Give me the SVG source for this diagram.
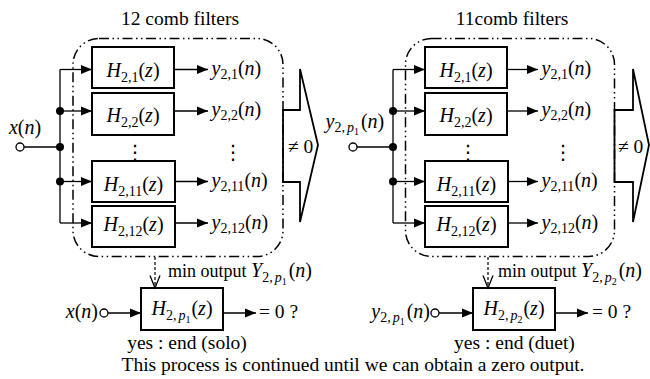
<svg xmlns="http://www.w3.org/2000/svg" width="650" height="379" viewBox="0 0 650 379">
  <defs>
    <style>
      .t { font-family: "Liberation Serif", "Times New Roman", serif; font-size: 19.5px; fill: #000; }
      .m { font-size: 20px; }
      .i { font-style: italic; }
      .s { font-size: 14px; }
      .ss { font-size: 10px; }
      .dots { font-family: "DejaVu Sans", sans-serif; font-size: 20px; fill: #000; }
      .box { fill: #fff; stroke: #000; stroke-width: 2; }
      .wire { fill: none; stroke: #000; stroke-width: 1.3; }
      .arr { marker-end: url(#ah); }
      .dash { fill: none; stroke: #000; stroke-width: 1.2; stroke-dasharray: 3 2; }
      .grp { fill: none; stroke: #000; stroke-width: 1.5; stroke-dasharray: 10 3.5 1.5 3.5 1.5 3.5; }
      .big { fill: none; stroke: #000; stroke-width: 1.8; stroke-linejoin: miter; }
      .node { fill: #000; }
      .port { fill: #fff; stroke: #000; stroke-width: 1.3; }
    </style>
    <marker id="ah" markerUnits="userSpaceOnUse" markerWidth="11" markerHeight="10" refX="11" refY="5" orient="auto">
      <path d="M0,0.5 L11,5 L0,9.5 z" fill="#000"/>
    </marker>
  </defs>

  <!-- titles -->
  <text class="t" x="180" y="25" text-anchor="middle">12 comb filters</text>
  <text class="t" x="512" y="25" text-anchor="middle">11comb filters</text>

  <!-- ===== left stage: 12 comb filters ===== -->
  <g id="bank1-frame">
    <rect class="grp" x="73" y="38.5" width="210" height="218" rx="26"/>
    <path class="big" d="M283,110 H300 V69 L318,145 L300,222 V182 H283 Z"/>
    <text class="t" x="288" y="153">≠ 0</text>
  </g>

  <g id="input1">
    <circle class="port" cx="20" cy="147" r="4"/>
    <text class="t m" x="25" y="134" text-anchor="middle"><tspan class="i">x</tspan>(<tspan class="i">n</tspan>)</text>
  </g>

  <g id="h21-a">
    <rect class="box" x="92" y="47" width="82" height="41"/>
    <text class="t m" x="133" y="77" text-anchor="middle"><tspan class="i">H</tspan><tspan class="s" dy="5">2,1</tspan><tspan dy="-5">(</tspan><tspan class="i">z</tspan>)</text>
  </g>
  <g id="h22-a">
    <rect class="box" x="92" y="93" width="82" height="42"/>
    <text class="t m" x="133" y="122" text-anchor="middle"><tspan class="i">H</tspan><tspan class="s" dy="5">2,2</tspan><tspan dy="-5">(</tspan><tspan class="i">z</tspan>)</text>
  </g>
  <g id="h211-a">
    <rect class="box" x="92" y="161" width="83" height="41"/>
    <text class="t m" x="133.5" y="191" text-anchor="middle"><tspan class="i">H</tspan><tspan class="s" dy="5">2,11</tspan><tspan dy="-5">(</tspan><tspan class="i">z</tspan>)</text>
  </g>
  <g id="h212-a">
    <rect class="box" x="92" y="206" width="83" height="41"/>
    <text class="t m" x="133.5" y="231" text-anchor="middle"><tspan class="i">H</tspan><tspan class="s" dy="5">2,12</tspan><tspan dy="-5">(</tspan><tspan class="i">z</tspan>)</text>
  </g>

  <g id="outputs1">
    <text class="t m" x="211.5" y="75"><tspan class="i">y</tspan><tspan class="s" dy="4">2,1</tspan><tspan dy="-4">(</tspan><tspan class="i">n</tspan>)</text>
    <text class="t m" x="211.5" y="116"><tspan class="i">y</tspan><tspan class="s" dy="4">2,2</tspan><tspan dy="-4">(</tspan><tspan class="i">n</tspan>)</text>
    <text class="t m" x="211.5" y="187"><tspan class="i">y</tspan><tspan class="s" dy="4">2,11</tspan><tspan dy="-4">(</tspan><tspan class="i">n</tspan>)</text>
    <text class="t m" x="211.5" y="228.5"><tspan class="i">y</tspan><tspan class="s" dy="4">2,12</tspan><tspan dy="-4">(</tspan><tspan class="i">n</tspan>)</text>
    <text class="dots" x="135" y="159" text-anchor="middle">⋮</text>
    <text class="dots" x="233" y="159" text-anchor="middle">⋮</text>
  </g>

  <g id="solo-test">
    <rect class="box" x="141" y="288" width="82" height="42"/>
    <text class="t m" x="182" y="315" text-anchor="middle"><tspan class="i">H</tspan><tspan class="s" dy="5">2,</tspan><tspan class="s i" dx="2">p</tspan><tspan class="ss" dy="3">1</tspan><tspan dy="-8" dx="1">(</tspan><tspan class="i">z</tspan>)</text>
    <circle class="port" cx="104" cy="313" r="4"/>
    <text class="t m" x="98" y="318" text-anchor="end"><tspan class="i">x</tspan>(<tspan class="i">n</tspan>)</text>
    <text class="t" x="259" y="318">= 0 ?</text>
    <text class="t" x="168" y="277" style="font-size:18px">min output <tspan class="i m">Y</tspan><tspan class="s" dy="5">2,</tspan><tspan class="s i" dx="2">p</tspan><tspan class="ss" dy="3">1</tspan><tspan class="m" dy="-8" dx="2">(</tspan><tspan class="i m">n</tspan><tspan class="m">)</tspan></text>
    <text class="t" x="187" y="349" text-anchor="middle">yes : end (solo)</text>
  </g>

  <!-- ===== right stage: 11 comb filters ===== -->
  <g id="bank2-frame">
    <rect class="grp" x="405.5" y="38.5" width="209" height="218" rx="26"/>
    <path class="big" d="M614.5,110 H633 V69 L649,145 L633,222 V182 H614.5 Z"/>
    <text class="t" x="618" y="153">≠ 0</text>
  </g>

  <g id="input2">
    <circle class="port" cx="353" cy="147" r="4"/>
    <text class="t m" x="325.5" y="128"><tspan class="i">y</tspan><tspan class="s" dy="4">2,</tspan><tspan class="s i" dx="2">p</tspan><tspan class="ss" dy="3">1</tspan><tspan dy="-7" dx="2">(</tspan><tspan class="i">n</tspan>)</text>
  </g>

  <g id="h21-b">
    <rect class="box" x="425" y="47" width="82" height="41"/>
    <text class="t m" x="466" y="77" text-anchor="middle"><tspan class="i">H</tspan><tspan class="s" dy="5">2,1</tspan><tspan dy="-5">(</tspan><tspan class="i">z</tspan>)</text>
  </g>
  <g id="h22-b">
    <rect class="box" x="425" y="93" width="82" height="42"/>
    <text class="t m" x="466" y="122" text-anchor="middle"><tspan class="i">H</tspan><tspan class="s" dy="5">2,2</tspan><tspan dy="-5">(</tspan><tspan class="i">z</tspan>)</text>
  </g>
  <g id="h211-b">
    <rect class="box" x="425" y="161" width="83" height="41"/>
    <text class="t m" x="466.5" y="191" text-anchor="middle"><tspan class="i">H</tspan><tspan class="s" dy="5">2,11</tspan><tspan dy="-5">(</tspan><tspan class="i">z</tspan>)</text>
  </g>
  <g id="h212-b">
    <rect class="box" x="425" y="206" width="83" height="41"/>
    <text class="t m" x="466.5" y="231" text-anchor="middle"><tspan class="i">H</tspan><tspan class="s" dy="5">2,12</tspan><tspan dy="-5">(</tspan><tspan class="i">z</tspan>)</text>
  </g>

  <g id="outputs2">
    <text class="t m" x="541.5" y="75"><tspan class="i">y</tspan><tspan class="s" dy="4">2,1</tspan><tspan dy="-4">(</tspan><tspan class="i">n</tspan>)</text>
    <text class="t m" x="541.5" y="116"><tspan class="i">y</tspan><tspan class="s" dy="4">2,2</tspan><tspan dy="-4">(</tspan><tspan class="i">n</tspan>)</text>
    <text class="t m" x="541.5" y="187"><tspan class="i">y</tspan><tspan class="s" dy="4">2,11</tspan><tspan dy="-4">(</tspan><tspan class="i">n</tspan>)</text>
    <text class="t m" x="541.5" y="228.5"><tspan class="i">y</tspan><tspan class="s" dy="4">2,12</tspan><tspan dy="-4">(</tspan><tspan class="i">n</tspan>)</text>
    <text class="dots" x="468" y="159" text-anchor="middle">⋮</text>
    <text class="dots" x="563" y="159" text-anchor="middle">⋮</text>
  </g>

  <g id="duet-test">
    <rect class="box" x="473" y="288" width="82" height="42"/>
    <text class="t m" x="514" y="315" text-anchor="middle"><tspan class="i">H</tspan><tspan class="s" dy="5">2,</tspan><tspan class="s i" dx="2">p</tspan><tspan class="ss" dy="3">2</tspan><tspan dy="-8" dx="1">(</tspan><tspan class="i">z</tspan>)</text>
    <circle class="port" cx="435" cy="313" r="4"/>
    <text class="t m" x="430" y="318" text-anchor="end"><tspan class="i">y</tspan><tspan class="s" dy="4">2,</tspan><tspan class="s i" dx="2">p</tspan><tspan class="ss" dy="3">1</tspan><tspan dy="-7" dx="2">(</tspan><tspan class="i">n</tspan>)</text>
    <text class="t" x="592" y="318">= 0 ?</text>
    <text class="t" x="498" y="277" style="font-size:18px">min output <tspan class="i m">Y</tspan><tspan class="s" dy="5">2,</tspan><tspan class="s i" dx="2">p</tspan><tspan class="ss" dy="3">2</tspan><tspan class="m" dy="-8" dx="2">(</tspan><tspan class="i m">n</tspan><tspan class="m">)</tspan></text>
    <text class="t" x="514.5" y="349" text-anchor="middle">yes : end (duet)</text>
  </g>

  <text class="t" x="353" y="371" text-anchor="middle">This process is continued until we can obtain a zero output.</text>

  <!-- connectors -->
  <g id="connectors">
    <!-- left bank fan-out -->
    <path class="wire" d="M60,69.5 V223"/>
    <path class="wire" d="M24,147 H60"/>
    <path class="wire arr" d="M60,69.5 H92"/>
    <path class="wire arr" d="M60,111 H92"/>
    <path class="wire arr" d="M60,181.5 H92"/>
    <path class="wire arr" d="M60,223 H92"/>
    <circle class="node" cx="60" cy="111" r="4"/>
    <circle class="node" cx="60" cy="147" r="4"/>
    <circle class="node" cx="60" cy="181.5" r="4"/>
    <path class="wire arr" d="M174,69.5 H208"/>
    <path class="wire arr" d="M174,111 H208"/>
    <path class="wire arr" d="M175,181.5 H208"/>
    <path class="wire arr" d="M175,223 H208"/>
    <!-- left selection and test -->
    <path class="dash" d="M155,257 V287"/>
    <path class="wire" d="M150,275.5 L155,288 L160,275.5"/>
    <path class="wire arr" d="M108,313 H141"/>
    <path class="wire arr" d="M223,313 H256"/>

    <!-- right bank fan-out -->
    <path class="wire" d="M393,69.5 V223"/>
    <path class="wire" d="M357,147 H393"/>
    <path class="wire arr" d="M393,69.5 H425"/>
    <path class="wire arr" d="M393,111 H425"/>
    <path class="wire arr" d="M393,181.5 H425"/>
    <path class="wire arr" d="M393,223 H425"/>
    <circle class="node" cx="393" cy="111" r="4"/>
    <circle class="node" cx="393" cy="147" r="4"/>
    <circle class="node" cx="393" cy="181.5" r="4"/>
    <path class="wire arr" d="M507,69.5 H538"/>
    <path class="wire arr" d="M507,111 H538"/>
    <path class="wire arr" d="M508,181.5 H538"/>
    <path class="wire arr" d="M508,223 H538"/>
    <!-- right selection and test -->
    <path class="dash" d="M488,257 V287"/>
    <path class="wire" d="M483,275.5 L488,288 L493,275.5"/>
    <path class="wire arr" d="M439,313 H473"/>
    <path class="wire arr" d="M555,313 H588"/>
  </g>
</svg>
